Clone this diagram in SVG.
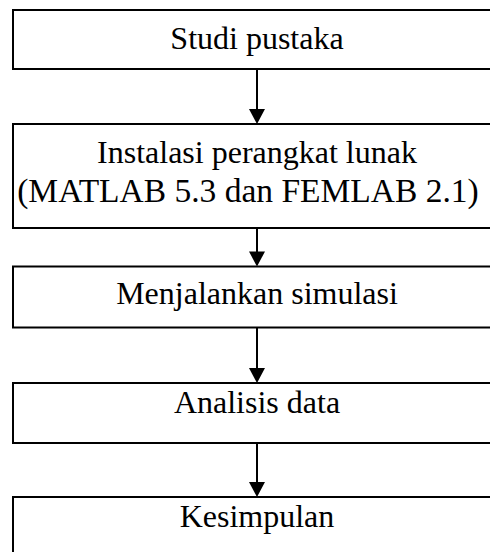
<svg xmlns="http://www.w3.org/2000/svg" width="490" height="552" viewBox="0 0 490 552">
  <style>
    .box { fill: #ffffff; stroke: #000000; stroke-width: 2; }
    .lbl { font-family: "Liberation Serif", "Times New Roman", serif; font-size: 32px; fill: #000000; text-anchor: middle; }
    .conn { stroke: #000000; stroke-width: 2; fill: none; }
  </style>
  <rect width="490" height="552" fill="#ffffff"/>
  <g id="n1">
    <rect class="box" x="13" y="10" width="490" height="59"/>
    <text class="lbl" x="257" y="49">Studi pustaka</text>
  </g>
  <g id="n2">
    <rect class="box" x="13" y="124" width="490" height="104"/>
    <text class="lbl" x="257" y="163">Instalasi perangkat lunak</text>
    <text class="lbl" x="248" y="202" style="font-size:33.5px">(MATLAB 5.3 dan FEMLAB 2.1)</text>
  </g>
  <g id="n3">
    <rect class="box" x="13" y="266.5" width="490" height="61"/>
    <text class="lbl" x="257" y="304">Menjalankan simulasi</text>
  </g>
  <g id="n4">
    <rect class="box" x="13" y="383" width="490" height="60"/>
    <text class="lbl" x="257" y="413">Analisis data</text>
  </g>
  <g id="n5">
    <rect class="box" x="13" y="497" width="490" height="80"/>
    <text class="lbl" x="257" y="527">Kesimpulan</text>
  </g>
  <g id="connectors">
    <line class="conn" x1="257" y1="69" x2="257" y2="110"/>
    <path d="M249,109 L265,109 L257,124 Z" fill="#000000"/>
    <line class="conn" x1="257" y1="228" x2="257" y2="252"/>
    <path d="M249,251.5 L265,251.5 L257,266.5 Z" fill="#000000"/>
    <line class="conn" x1="257" y1="327.5" x2="257" y2="369"/>
    <path d="M249,368 L265,368 L257,383 Z" fill="#000000"/>
    <line class="conn" x1="257" y1="443" x2="257" y2="483"/>
    <path d="M249,482 L265,482 L257,497 Z" fill="#000000"/>
  </g>
</svg>
